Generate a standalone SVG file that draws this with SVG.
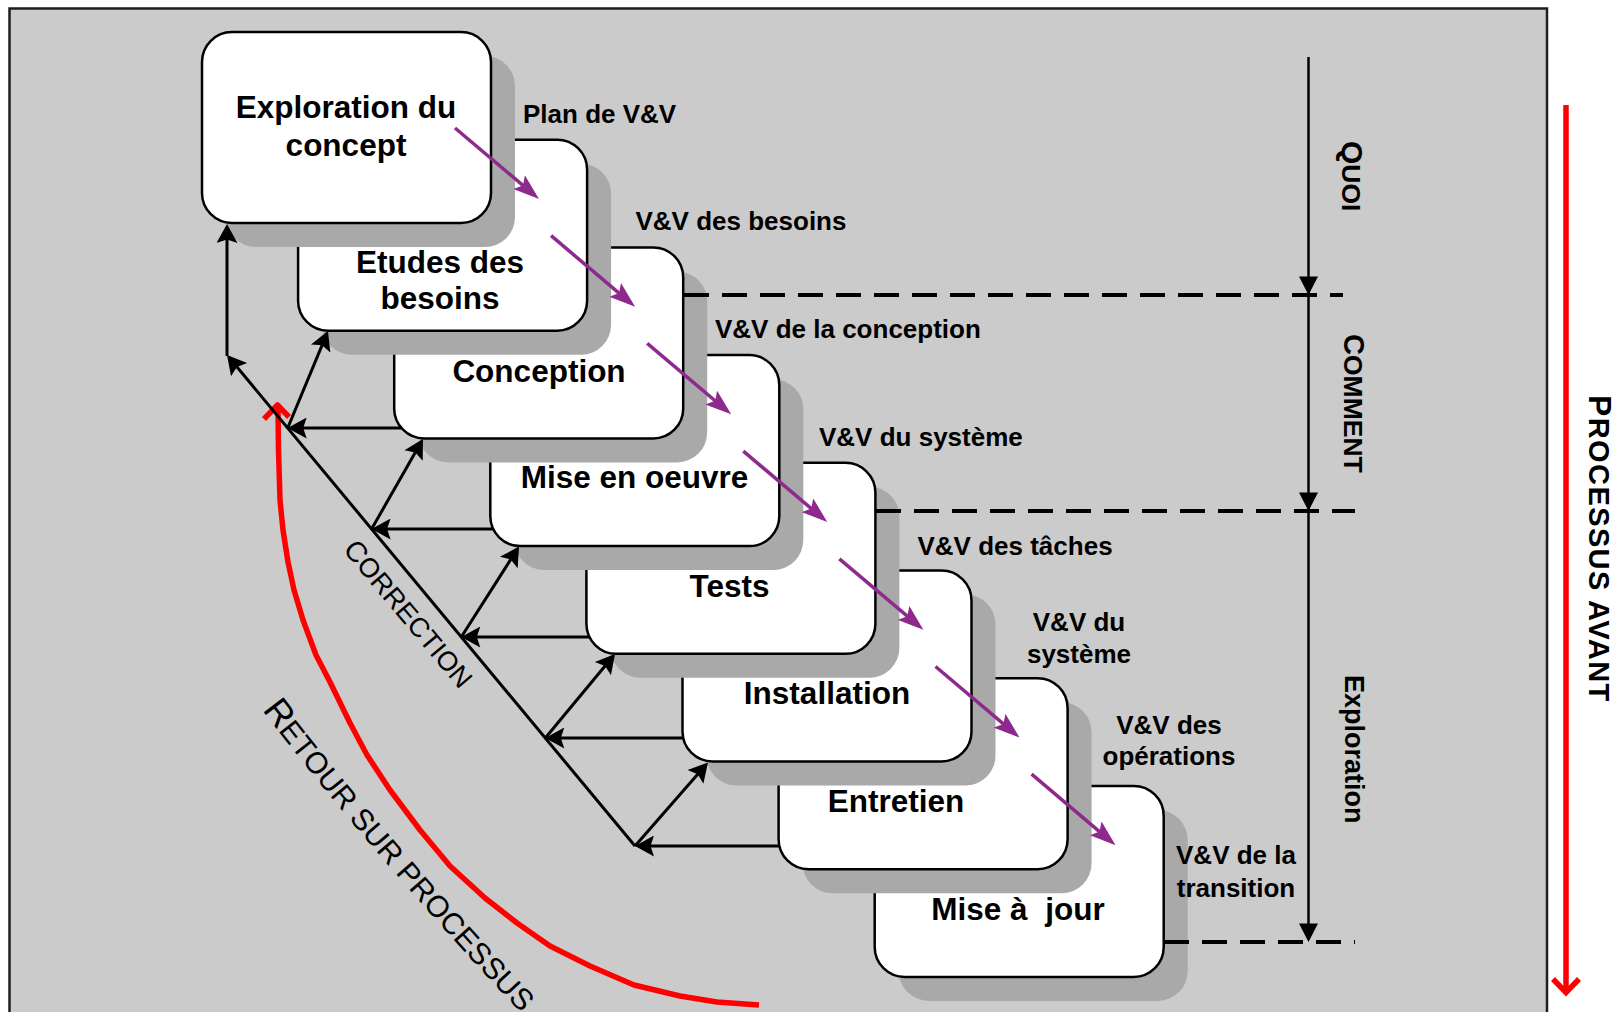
<svg xmlns="http://www.w3.org/2000/svg" width="1615" height="1012" viewBox="0 0 1615 1012">
<defs>
<style>
.panel{fill:#cbcbcb;stroke:#1e1e1e;stroke-width:2.5}
.shadow{fill:#a9a9a9}
.box{fill:#fff;stroke:#000;stroke-width:2.5}
.bt{font-family:"Liberation Sans",Arial,sans-serif;font-weight:bold;font-size:31.5px;text-anchor:middle;fill:#000}
.lbl{font-family:"Liberation Sans",Arial,sans-serif;font-weight:bold;font-size:26px;fill:#000}
.lblc{font-family:"Liberation Sans",Arial,sans-serif;font-weight:bold;font-size:26px;fill:#000;text-anchor:middle}
.side{font-family:"Liberation Sans",Arial,sans-serif;font-weight:bold;fill:#000}
.diag{font-family:"Liberation Sans",Arial,sans-serif;font-weight:normal;fill:#000}
.conn{stroke:#000;stroke-width:3;fill:none;marker-end:url(#ah)}
.vv{stroke:#8e2a8e;stroke-width:3.5;fill:none;marker-end:url(#ahp)}
.dash{stroke:#000;stroke-width:4;stroke-dasharray:25 13;fill:none}
.thin{stroke:#000;stroke-width:2.5;fill:none}
.red{stroke:#ff0000;stroke-width:5.5;fill:none;stroke-linejoin:round}
</style>
<marker id="ah" markerUnits="userSpaceOnUse" markerWidth="21" markerHeight="21" viewBox="0 0 21 21" refX="18" refY="10.5" orient="auto"><path d="M2,0 L21,10.5 L2,21 L5.5,10.5 z" fill="#000"/></marker>
<marker id="ahp" markerUnits="userSpaceOnUse" markerWidth="26" markerHeight="18" viewBox="0 0 26 18" refX="20" refY="9" orient="auto"><path d="M0,0 L26,9 L0,18 L5,9 z" fill="#8e2a8e"/></marker>
<path id="retourPath" d="M262,710 Q372,854 520,1012 L560,1055" fill="none"/>
</defs>

<rect x="0" y="0" width="1615" height="1012" fill="#fff"/>
<rect class="panel" x="9.5" y="8.5" width="1537.5" height="1015"/>

<g id="nodes">
<g id="node-miseajour">
<rect class="shadow" x="898.7" y="809.9" width="289" height="191" rx="30"/>
<rect class="box" x="874.7" y="785.9" width="289" height="191" rx="30"/>
<text class="bt" x="1018" y="920" xml:space="preserve" style="white-space:pre">Mise à  jour</text>
</g>
<g id="node-entretien">
<rect class="shadow" x="802.6" y="702.2" width="289" height="191" rx="30"/>
<rect class="box" x="778.6" y="678.2" width="289" height="191" rx="30"/>
<text class="bt" x="896" y="812">Entretien</text>
</g>
<g id="node-installation">
<rect class="shadow" x="706.5" y="594.5" width="289" height="191" rx="30"/>
<rect class="box" x="682.5" y="570.5" width="289" height="191" rx="30"/>
<text class="bt" x="827" y="704">Installation</text>
</g>
<g id="node-tests">
<rect class="shadow" x="610.4" y="486.8" width="289" height="191" rx="30"/>
<rect class="box" x="586.4" y="462.8" width="289" height="191" rx="30"/>
<text class="bt" x="729.5" y="597">Tests</text>
</g>
<g id="node-miseenoeuvre">
<rect class="shadow" x="514.3" y="379.1" width="289" height="191" rx="30"/>
<rect class="box" x="490.3" y="355.1" width="289" height="191" rx="30"/>
<text class="bt" x="634.5" y="488">Mise en oeuvre</text>
</g>
<g id="node-conception">
<rect class="shadow" x="418.2" y="271.4" width="289" height="191" rx="30"/>
<rect class="box" x="394.2" y="247.4" width="289" height="191" rx="30"/>
<text class="bt" x="539" y="382">Conception</text>
</g>
<g id="node-etudes">
<rect class="shadow" x="322.1" y="163.7" width="289" height="191" rx="30"/>
<rect class="box" x="298.1" y="139.7" width="289" height="191" rx="30"/>
<text class="bt" x="440" y="273">Etudes des</text>
<text class="bt" x="440" y="309">besoins</text>
</g>
<g id="node-exploration">
<rect class="shadow" x="226" y="56" width="289" height="191" rx="30"/>
<rect class="box" x="202" y="32" width="289" height="191" rx="30"/>
<text class="bt" x="346" y="118">Exploration du</text>
<text class="bt" x="346" y="156">concept</text>
</g>
</g>

<g id="feedback-curve">
<polyline class="red" points="278,408 278.5,450 280,500 283,530 288,562 294,590 303,620 316,655 330,682 350,723 367,755 390,790 420,830 450,866 485,898 517,923 550,946 590,966 634,985 680,996 717,1002 759,1005"/>
<polyline class="red" points="264,419 277.5,405 289,417"/>
</g>

<g id="connectors">
<line class="conn" x1="227" y1="356" x2="227" y2="227"/>
<line class="conn" x1="635" y1="846" x2="228.9" y2="357.3"/>
<line class="conn" x1="401.5" y1="428" x2="290.7" y2="428"/>
<line class="conn" x1="493.2" y1="529" x2="374.6" y2="529"/>
<line class="conn" x1="589.5" y1="637" x2="464.3" y2="637"/>
<line class="conn" x1="683.2" y1="738" x2="548.3" y2="738"/>
<line class="conn" x1="779.4" y1="846" x2="638" y2="846"/>
<line class="conn" x1="287.7" y1="428" x2="326.8" y2="333.8"/>
<line class="conn" x1="371.6" y1="529" x2="421.5" y2="441.6"/>
<line class="conn" x1="461.3" y1="637" x2="517.4" y2="549"/>
<line class="conn" x1="545.3" y1="738" x2="613.1" y2="656.3"/>
<line class="conn" x1="635" y1="846" x2="706" y2="764.8"/>

<line class="vv" x1="455" y1="128" x2="534.4" y2="195.1"/>
<line class="vv" x1="551.1" y1="235.7" x2="630.5" y2="302.8"/>
<line class="vv" x1="647.2" y1="343.4" x2="726.6" y2="410.5"/>
<line class="vv" x1="743.3" y1="451.1" x2="822.7" y2="518.2"/>
<line class="vv" x1="839.4" y1="558.8" x2="918.8" y2="625.9"/>
<line class="vv" x1="935.5" y1="666.5" x2="1014.9" y2="733.6"/>
<line class="vv" x1="1031.6" y1="774.2" x2="1111" y2="841.3"/>

<line class="dash" x1="684" y1="295" x2="1343" y2="295"/>
<line class="dash" x1="876" y1="511" x2="1355" y2="511"/>
<line class="dash" x1="1164" y1="942" x2="1355" y2="942"/>

<line class="thin" x1="1308.5" y1="57" x2="1308.5" y2="930"/>
<polygon points="1299,276.5 1318,276.5 1308.5,295" fill="#000"/>
<polygon points="1299,492.5 1318,492.5 1308.5,511" fill="#000"/>
<polygon points="1299,923.5 1318,923.5 1308.5,942" fill="#000"/>

<line x1="1566" y1="105" x2="1566" y2="990" stroke="#ff0000" stroke-width="5.5"/>
<polyline points="1553,979 1566,992.5 1579,979" fill="none" stroke="#ff0000" stroke-width="5.5"/>
</g>

<g id="labels">
<text class="lbl" x="523" y="123">Plan de V&amp;V</text>
<text class="lbl" x="635.5" y="230">V&amp;V des besoins</text>
<text class="lbl" x="715" y="338">V&amp;V de la conception</text>
<text class="lbl" x="819" y="446">V&amp;V du système</text>
<text class="lbl" x="917.5" y="554.5">V&amp;V des tâches</text>
<text class="lblc" x="1079" y="630.5">V&amp;V du</text>
<text class="lblc" x="1079" y="662.5">système</text>
<text class="lblc" x="1169" y="734">V&amp;V des</text>
<text class="lblc" x="1169" y="765">opérations</text>
<text class="lblc" x="1236" y="864">V&amp;V de la</text>
<text class="lblc" x="1236" y="896.5">transition</text>

<text class="side" transform="translate(1342,141) rotate(90)"><tspan font-size="30">Q</tspan><tspan font-size="26.5">UOI</tspan></text>
<text class="side" transform="translate(1343.5,334) rotate(90)"><tspan font-size="29">C</tspan><tspan font-size="26.5">OMMENT</tspan></text>
<text class="side" font-size="27" transform="translate(1345,675) rotate(90)">Exploration</text>
<text class="side" transform="translate(1589,395) rotate(90)" letter-spacing="1.4"><tspan font-size="32">P</tspan><tspan font-size="29">ROCESSUS AVANT</tspan></text>

<text class="diag" transform="translate(401,620) rotate(50)" text-anchor="middle"><tspan font-size="28.5">C</tspan><tspan font-size="27">ORRECTION</tspan></text>
<text class="diag" font-size="30"><textPath href="#retourPath"><tspan font-size="36">R</tspan>ETOUR SUR PROCESSUS</textPath></text>
</g>
</svg>
